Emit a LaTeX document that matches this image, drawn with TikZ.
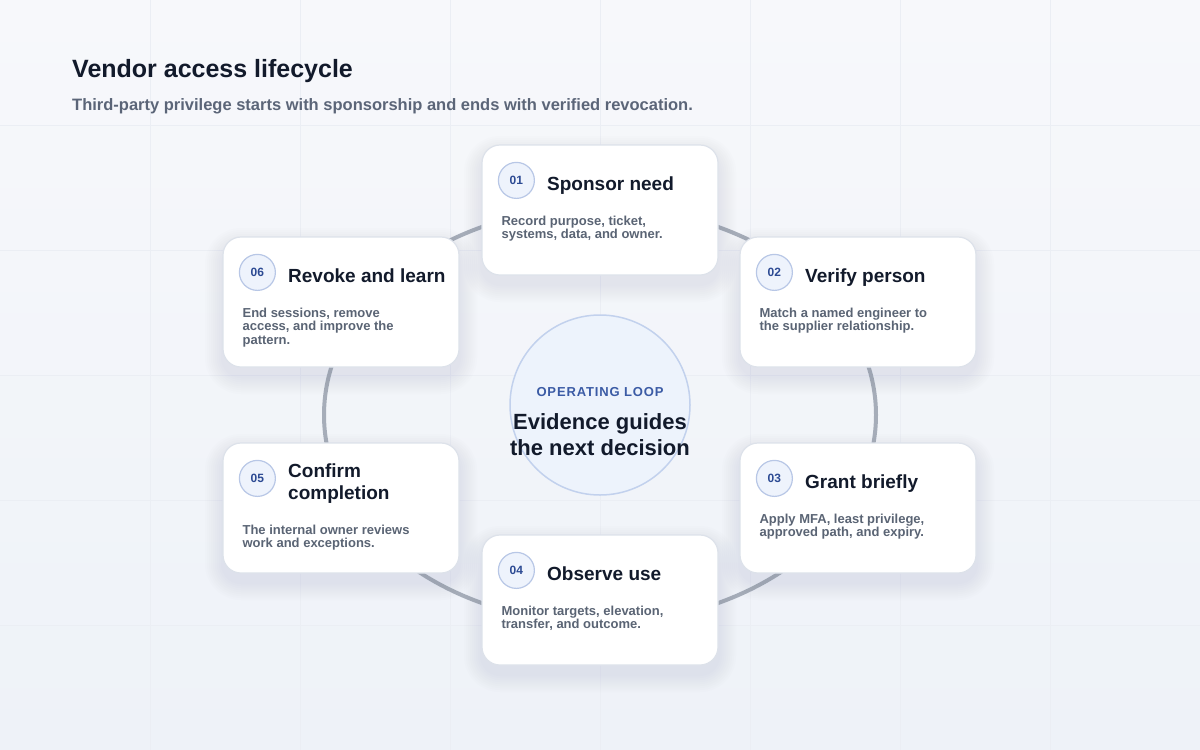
\documentclass[tikz,border=0pt]{standalone}
\usepackage{fontspec}
\setmainfont{Liberation Sans}
\newfontfamily\tagfont[LetterSpace=6.5]{Liberation Sans}
\usetikzlibrary{positioning}

\definecolor{bgtop}{HTML}{F7F8FB}
\definecolor{bgbottom}{HTML}{EEF2F8}
\definecolor{gridline}{HTML}{EBEEF4}
\definecolor{ink}{HTML}{121A2B}
\definecolor{subink}{HTML}{5B6578}
\definecolor{noteink}{HTML}{5A6474}
\definecolor{ringgray}{HTML}{A6ADB9}
\definecolor{loopfill}{HTML}{EDF3FC}
\definecolor{loopline}{HTML}{C2D1ED}
\definecolor{tagblue}{HTML}{3B5BA5}
\definecolor{cardline}{HTML}{DDE2EA}
\definecolor{cardshadow}{HTML}{8A98B2}
\definecolor{badgefill}{HTML}{EEF3FC}
\definecolor{badgeline}{HTML}{B8C7E6}
\definecolor{badgeink}{HTML}{2C4A93}

% one lifecycle card: name, x, y, number, title, note
\newcommand{\lifecard}[6]{%
	\foreach \s in {2,4,...,18}
		\fill [cardshadow, opacity=0.016, rounded corners=(18+\s)*1pt] (#2-118-\s, #3-65-\s+9) rectangle (#2+118+\s, #3+65+\s+9);
	\node [card] (#1) at (#2, #3) {};
	\node [badge] (#1-num) at ([xshift=35pt, yshift=-36pt]#1.north west) {#4};
	\node [steptitle, right=12pt of #1-num] (#1-title) {#5};
	\path (#1-title.south -| #1.west) ++(20, 25) node [stepnote] (#1-note) {#6};
}

\begin{document}
\begin{tikzpicture}[x = 1pt, y = -1pt,
	card/.style = {draw = cardline, line width = 1.2pt, fill = white, rounded corners = 18pt,
		minimum width = 236pt, minimum height = 130pt, inner sep = 0pt},
	badge/.style = {circle, minimum size = 36pt, inner sep = 0pt, fill = badgefill, draw = badgeline,
		line width = 1.2pt, text = badgeink, font = \fontsize{12}{14}\selectfont\bfseries},
	steptitle/.style = {anchor = west, inner sep = 0pt, align = left, text depth = 0pt, yshift = -3pt,
		text = ink, font = \fontsize{19}{22}\selectfont\bfseries},
	stepnote/.style = {anchor = north west, inner sep = 0pt, align = left,
		text = noteink, font = \fontsize{13}{13.5}\selectfont\bfseries},
	heading/.style = {anchor = base west, inner sep = 0pt, text = ink, font = \fontsize{25}{30}\selectfont\bfseries},
	subheading/.style = {anchor = base west, inner sep = 0pt, text = subink, font = \fontsize{16.5}{20}\selectfont\bfseries},
	ring/.style = {draw = ringgray, line width = 4pt},
	loop/.style = {circle, minimum size = 180pt, inner sep = 0pt, fill = loopfill, draw = loopline, line width = 1.5pt},
	looptag/.style = {inner sep = 0pt, text = tagblue, font = \tagfont\fontsize{13}{15}\selectfont\bfseries},
	loopmsg/.style = {inner sep = 0pt, align = center, text = ink, font = \fontsize{22}{26.5}\selectfont\bfseries}]

	\useasboundingbox (0, 0) rectangle (1200, 750);

	% Page and faint grid
	
	\shade [top color = bgtop, bottom color = bgbottom] (0, 0) rectangle (1200, 750);
	\foreach \gx in {150, 300, ..., 1050}
		\draw [gridline, line width = 1pt] (\gx, 0) -- (\gx, 750);
	\foreach \gy in {125, 250, ..., 625}
		\draw [gridline, line width = 1pt] (0, \gy) -- (1200, \gy);

	\node [heading] (title) at (72, 77) {Vendor access lifecycle};
	\node [subheading] (subtitle) at (72, 110) {Third-party privilege starts with sponsorship and ends with verified revocation.};

	% The loop and its hub
	
	\draw [ring] (600, 415) ellipse [x radius = 276pt, y radius = 208pt];
	\node [loop] (loop) at (600, 405) {};
	\node [looptag] (loop-tag) at (600, 392.5) {OPERATING LOOP};
	\node [loopmsg, below = 16pt of loop-tag] (loop-msg) {Evidence guides\\the next decision};

	% Six steps round the loop
	
	\lifecard{sponsor}{600}{210}{01}{Sponsor need}{Record purpose, ticket,\\systems, data, and owner.}
	\lifecard{verify}{858}{302}{02}{Verify person}{Match a named engineer to\\the supplier relationship.}
	\lifecard{grant}{858}{508}{03}{Grant briefly}{Apply MFA, least privilege,\\approved path, and expiry.}
	\lifecard{observe}{600}{600}{04}{Observe use}{Monitor targets, elevation,\\transfer, and outcome.}
	\lifecard{confirm}{341}{508}{05}{Confirm\\completion}{The internal owner reviews\\work and exceptions.}
	\lifecard{revoke}{341}{302}{06}{Revoke and learn}{End sessions, remove\\access, and improve the\\pattern.}

\end{tikzpicture}
\end{document}
